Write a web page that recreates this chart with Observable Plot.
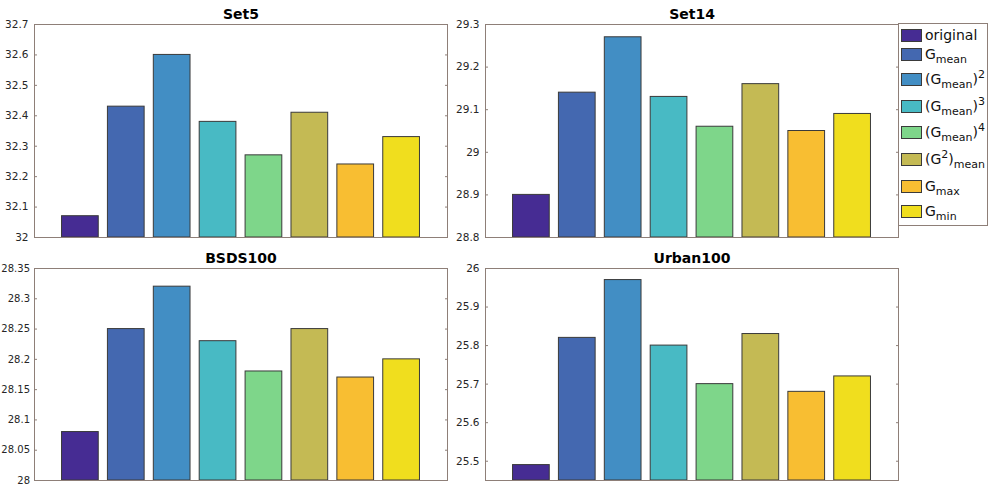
<!DOCTYPE html>
<html>
<head>
<meta charset="utf-8">
<script src="https://cdn.jsdelivr.net/npm/d3@7"></script>
<script src="https://cdn.jsdelivr.net/npm/@observablehq/plot@0.6"></script>
<style>
  html, body { margin: 0; padding: 0; background: #fff; }
  #root { position: relative; width: 997px; height: 491px; overflow: hidden; background: #fff; font-family: "DejaVu Sans", sans-serif; }
  .panel { position: absolute; }
  #legend { position: absolute; left: 898px; top: 23px; width: 88px; height: 201px; border: 1px solid #8e7f78; background: #fff; }
  .entry { position: absolute; left: 2px; display: flex; align-items: center; font-size: 14px; color: #111; white-space: nowrap; }
  .sw { width: 19px; height: 11px; border: 1px solid #3a3a3a; margin-right: 3px; flex: none; }
  .entry sub, .entry sup { font-size: 11px; line-height: 0; }
</style>
</head>
<body>
<div id="root"></div>
<script>
// ---- data ----
const methods = ["original", "Gmean", "(Gmean)^2", "(Gmean)^3", "(Gmean)^4", "(G^2)mean", "Gmax", "Gmin"];
const methodLabels = ["original", "G<sub>mean</sub>", "(G<sub>mean</sub>)<sup>2</sup>", "(G<sub>mean</sub>)<sup>3</sup>", "(G<sub>mean</sub>)<sup>4</sup>", "(G<sup>2</sup>)<sub>mean</sub>", "G<sub>max</sub>", "G<sub>min</sub>"];
const colors = ["#462c93", "#4468b0", "#428ec4", "#48bac4", "#7ed68a", "#c4ba54", "#f8be32", "#f0de1e"];

const set5 = [32.07, 32.43, 32.60, 32.38, 32.27, 32.41, 32.24, 32.33];
const set14 = [28.90, 29.14, 29.27, 29.13, 29.06, 29.16, 29.05, 29.09];
const bsds100 = [28.08, 28.25, 28.32, 28.23, 28.18, 28.25, 28.17, 28.20];
const urban100 = [25.49, 25.82, 25.97, 25.80, 25.70, 25.83, 25.68, 25.72];

const set5Ticks = [32, 32.1, 32.2, 32.3, 32.4, 32.5, 32.6, 32.7];
const set14Ticks = [28.8, 28.9, 29, 29.1, 29.2, 29.3];
const bsdsTicks = [28, 28.05, 28.1, 28.15, 28.2, 28.25, 28.3, 28.35];
const urbanTicks = [25.5, 25.6, 25.7, 25.8, 25.9, 26];

const panels = [
  {title: "Set5", values: set5, domain: [32, 32.7], ticks: set5Ticks},
  {title: "Set14", values: set14, domain: [28.8, 29.3], ticks: set14Ticks},
  {title: "BSDS100", values: bsds100, domain: [28, 28.35], ticks: bsdsTicks},
  {title: "Urban100", values: urban100, domain: [25.45, 26], ticks: urbanTicks}
];

// ---- layout ----
const layout = [
  {left: 0, top: 0, mL: 34, mR: 13, mT: 24, mB: 8, fs: 10.5, pad: 9},
  {left: 450, top: 0, mL: 35, mR: 12, mT: 24, mB: 8, fs: 10.5, pad: 9},
  {left: 0, top: 245, mL: 34, mR: 13, mT: 23, mB: 10, fs: 10, pad: 7.5},
  {left: 450, top: 245, mL: 35, mR: 12, mT: 23, mB: 10, fs: 10.5, pad: 9}
];
const legendTops = [27, 46, 71, 98, 124, 151, 178, 203];

const root = document.getElementById("root");
const frameColor = "#8e7f78";

panels.forEach((p, i) => {
  const L = layout[i];
  const rows = methods.map((m, j) => ({method: m, value: p.values[j]}));
  const chart = Plot.plot({
    width: 460,
    height: 245,
    marginLeft: L.mL, marginRight: L.mR, marginTop: L.mT, marginBottom: L.mB,
    style: {fontFamily: "DejaVu Sans", fontSize: L.fs + "px", color: "#262626", background: "transparent", overflow: "visible"},
    x: {type: "band", domain: methods, paddingInner: 0.2, paddingOuter: 0.6, round: false, axis: null},
    y: {domain: p.domain, axis: null},
    color: {domain: methods, range: colors},
    marks: [
      Plot.barY(rows, {x: "method", y1: p.domain[0], y2: "value", fill: "method", stroke: "#3a3a3a", strokeWidth: 1}),
      Plot.axisY({anchor: "left", label: null, ticks: p.ticks, tickSize: -3, tickPadding: L.pad, stroke: frameColor, tickFormat: d => String(d)}),
      Plot.axisY({anchor: "right", label: null, ticks: p.ticks, tickSize: -3, stroke: frameColor, tickFormat: () => ""}),
      Plot.frame({stroke: frameColor}),
      Plot.text([p.title], {frameAnchor: "top", lineAnchor: "bottom", dy: -6, fontWeight: "bold", fontSize: 14, fill: "#000"})
    ]
  });
  chart.classList.add("panel");
  chart.style.left = L.left + "px";
  chart.style.top = L.top + "px";
  root.appendChild(chart);
});

// legend
const legend = document.createElement("div");
legend.id = "legend";
methods.forEach((m, j) => {
  const e = document.createElement("div");
  e.className = "entry";
  e.style.top = (legendTops[j] - 23 - 1) + "px";
  const sw = document.createElement("span");
  sw.className = "sw";
  sw.style.background = colors[j];
  const t = document.createElement("span");
  t.innerHTML = methodLabels[j];
  e.appendChild(sw);
  e.appendChild(t);
  legend.appendChild(e);
});
root.appendChild(legend);
</script>
</body>
</html>
